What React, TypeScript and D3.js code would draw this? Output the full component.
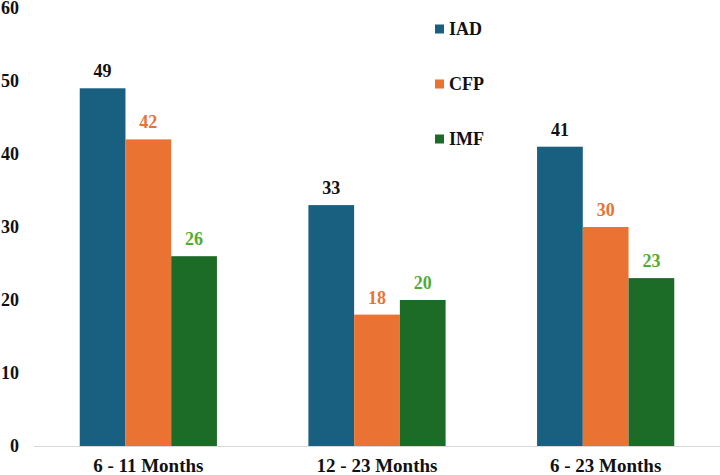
import React from "react";
import * as d3 from "d3";

const categories = ["6 - 11 Months", "12 - 23 Months", "6 - 23 Months"];
const seriesNames = ["IAD", "CFP", "IMF"];
const iad = [49, 33, 41];
const cfp = [42, 18, 30];
const imf = [26, 20, 23];
const yTicks = [0, 10, 20, 30, 40, 50, 60];

const barColors = ["#185f80", "#ea7334", "#1c6b26"];
const labelColors = ["#111111", "#ea7334", "#4fae32"];

const width = 720, height = 475;
const left = 34, right = 720, top = 8, bottom = 446;
const font = "Liberation Serif";

const App = () => {
  const values = [iad, cfp, imf];

  const x0 = d3.scaleBand<string>()
    .domain(categories)
    .range([left, right])
    .paddingInner(0.4)
    .paddingOuter(0.2);

  const x1 = d3.scaleBand<string>()
    .domain(seriesNames)
    .range([0, x0.bandwidth()]);

  const y = d3.scaleLinear().domain([0, 60]).range([bottom, top]);

  return (
    <svg width={width} height={height} style={{ position: "absolute", left: 0, top: 0 }}>
      {/* y tick labels */}
      <g>
        {yTicks.map(t => (
          <text key={t} x={19} y={y(t)} dy="0.35em" textAnchor="end"
            fontFamily={font} fontWeight="bold" fontSize={18} fill="#111">
            {t}
          </text>
        ))}
      </g>

      {/* bars + value labels */}
      {seriesNames.map((s, si) => (
        <g key={s}>
          {values[si].map((v, i) => (
            <rect key={i}
              x={x0(categories[i])! + x1(s)!}
              y={y(v)}
              width={x1.bandwidth()}
              height={y(0) - y(v)}
              fill={barColors[si]} />
          ))}
          {values[si].map((v, i) => (
            <text key={"t" + i}
              x={x0(categories[i])! + x1(s)! + x1.bandwidth() / 2}
              y={y(v) - 11}
              textAnchor="middle"
              fontFamily={font} fontWeight="bold" fontSize={18}
              fill={labelColors[si]}>
              {v}
            </text>
          ))}
        </g>
      ))}

      {/* baseline */}
      <line x1={left} x2={right} y1={bottom + 0.5} y2={bottom + 0.5} stroke="#d9d9d9" strokeWidth={1} />

      {/* category labels */}
      <g>
        {categories.map(c => (
          <text key={c} x={x0(c)! + x0.bandwidth() / 2} y={472} textAnchor="middle"
            fontFamily={font} fontWeight="bold" fontSize={19} fill="#111">
            {c}
          </text>
        ))}
      </g>

      {/* legend */}
      <g>
        {seriesNames.map((s, i) => {
          const ly = 29 + i * 55;
          return (
            <g key={s}>
              <rect x={435} y={ly - 4.5} width={9} height={9} fill={barColors[i]} />
              <text x={449} y={ly} dy="0.35em" fontFamily={font} fontWeight="bold" fontSize={18} fill="#111">
                {s}
              </text>
            </g>
          );
        })}
      </g>
    </svg>
  );
};

export default App;
